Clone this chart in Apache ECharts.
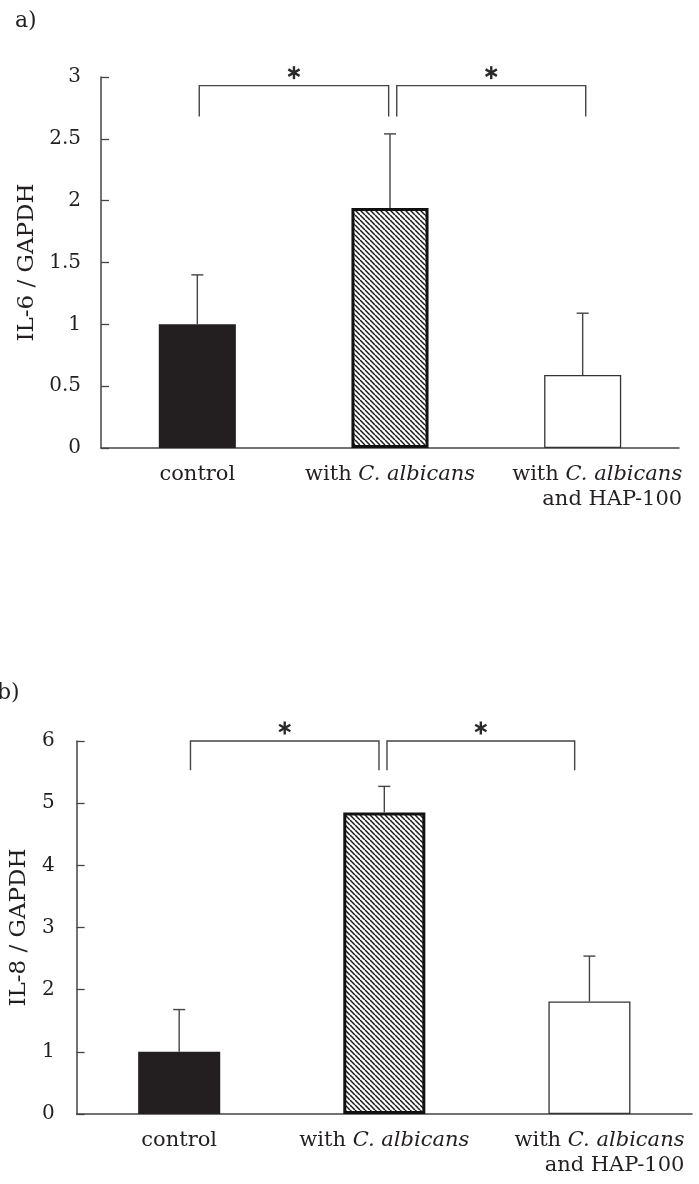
<!DOCTYPE html>
<html><head><meta charset="utf-8">
<script src="https://cdn.jsdelivr.net/npm/echarts@6/dist/echarts.min.js"></script>
<style>html,body{margin:0;padding:0;background:#fff}#c{width:699px;height:1184px}</style>
</head><body><div id="c"></div>
<script>
// ---------- data ----------
const categories = ['control', 'with C. albicans', 'with C. albicans\nand HAP-100'];
const il6Means = [1.0, 1.94, 0.59];
const il6Upper = [1.40, 2.54, 1.09];
const il8Means = [1.0, 4.85, 1.81];
const il8Upper = [1.68, 5.27, 2.54];
// significance brackets: [xStart, xEnd, levelY, dropY]; x in category units (category i centre = i + 0.5)
const il6Brackets = [[0.51, 1.493, 2.93, 2.68], [1.535, 2.516, 2.93, 2.68]];
const il8Brackets = [[0.555, 1.474, 6.0, 5.53], [1.513, 2.428, 6.0, 5.53]];
const panelLetters = ['a)', 'b)'];
const yNames = ['IL-6 / GAPDH', 'IL-8 / GAPDH'];

// ---------- styles ----------
const FONT = '"DejaVu Serif", "Liberation Serif", serif';
const INK = '#231f20';
const LINE = '#444';

function makeHatch() {
  const s = 5, cv = document.createElement('canvas');
  cv.width = s; cv.height = s;
  const g = cv.getContext('2d');
  g.fillStyle = '#fff'; g.fillRect(0, 0, s, s);
  g.strokeStyle = '#1a1a1a'; g.lineWidth = 1.5;
  for (const o of [-s, 0, s]) { g.beginPath(); g.moveTo(o, 0); g.lineTo(o + s, s); g.stroke(); }
  return cv;
}
const hatch = makeHatch();
const barStyles = [
  { color: INK },
  { color: { image: hatch, repeat: 'repeat' }, borderColor: '#111', borderWidth: 3 },
  { color: '#fff', borderColor: '#333', borderWidth: 1.3 }
];

function labelFmt(v) {
  return v.split('\n').map((line, i) =>
    i === 0 ? line.replace('C. albicans', '{i|C. albicans}') : '{r|' + line + '}'
  ).join('\n');
}
function catData(shift) {
  return categories.map((c, i) => i === 2 ? { value: c, textStyle: { padding: [0, 0, 0, shift] } } : c);
}

function errRender(params, api) {
  const x = api.value(0);
  const p0 = api.coord([x, api.value(1)]);
  const p1 = api.coord([x, api.value(2)]);
  const cap = 6;
  const st = { stroke: LINE, lineWidth: 1.4 };
  return { type: 'group', children: [
    { type: 'line', shape: { x1: p0[0], y1: p0[1], x2: p1[0], y2: p1[1] }, style: st },
    { type: 'line', shape: { x1: p1[0] - cap, y1: p1[1], x2: p1[0] + cap, y2: p1[1] }, style: st }
  ]};
}
function bracketRender(params, api) {
  const a = api.coord([api.value(0), api.value(3)]);
  const b = api.coord([api.value(0), api.value(2)]);
  const c = api.coord([api.value(1), api.value(2)]);
  const d = api.coord([api.value(1), api.value(3)]);
  const mx = (b[0] + c[0]) / 2, my = b[1] - 13, r = 6.5;
  const kids = [{ type: 'polyline', shape: { points: [a, b, c, d] }, style: { stroke: LINE, lineWidth: 1.4, fill: null } }];
  [90, 30, 150].forEach(deg => {
    const t = deg * Math.PI / 180, dx = r * Math.cos(t), dy = r * Math.sin(t);
    kids.push({ type: 'line', shape: { x1: mx - dx, y1: my - dy, x2: mx + dx, y2: my + dy }, style: { stroke: '#2a2a2a', lineWidth: 2.4 } });
  });
  return { type: 'group', children: kids };
}

function catAxis(gi, shift) {
  return {
    type: 'category', gridIndex: gi, data: catData(shift),
    axisLine: { lineStyle: { color: LINE, width: 1.5 } },
    axisTick: { show: false },
    axisLabel: {
      interval: 0, margin: 14, color: INK, fontFamily: FONT, fontSize: 21, lineHeight: 25,
      formatter: labelFmt,
      rich: {
        i: { fontStyle: 'italic', fontFamily: FONT, fontSize: 21, color: INK, lineHeight: 25 },
        r: { align: 'right', fontFamily: FONT, fontSize: 21, color: INK, lineHeight: 25 }
      }
    }
  };
}
function valAxisX(gi) { return { type: 'value', gridIndex: gi, min: 0, max: 3, show: false }; }
function yAxis(gi, max, interval, margin, nameGap) {
  return {
    type: 'value', gridIndex: gi, min: 0, max: max, interval: interval,
    name: yNames[gi], nameLocation: 'middle', nameRotate: 90, nameGap: nameGap,
    nameTextStyle: { fontFamily: FONT, fontSize: 23, color: INK },
    axisLine: { show: true, lineStyle: { color: LINE, width: 1.5 } },
    axisTick: { show: true, inside: true, length: 8, lineStyle: { color: LINE, width: 1.3 } },
    axisLabel: { margin: margin, color: INK, fontFamily: FONT, fontSize: 20 },
    splitLine: { show: false }
  };
}
function bars(means, xi, yi) {
  return { type: 'bar', xAxisIndex: xi, yAxisIndex: yi, barWidth: '40%', silent: true,
    data: means.map((v, i) => ({ value: v, itemStyle: barStyles[i] })) };
}
function errs(means, upper, xi, yi) {
  return { type: 'custom', xAxisIndex: xi, yAxisIndex: yi, z: 5, silent: true,
    renderItem: errRender, encode: { x: 0, y: [1, 2] },
    data: means.map((m, i) => [i, m, upper[i]]) };
}
function brackets(data, xi, yi) {
  return { type: 'custom', xAxisIndex: xi, yAxisIndex: yi, z: 5, silent: true, clip: false,
    renderItem: bracketRender, encode: { x: [0, 1], y: [2, 3] }, data: data };
}

const chart = echarts.init(document.getElementById('c'), null, { renderer: 'canvas' });
chart.setOption({
  backgroundColor: '#fff',
  animation: false,
  grid: [
    { left: 101, top: 77, width: 578, height: 371 },
    { left: 76, top: 741, width: 616, height: 373 }
  ],
  xAxis: [catAxis(0, 29), valAxisX(0), catAxis(1, 20), valAxisX(1)],
  yAxis: [yAxis(0, 3, 0.5, 20, 59), yAxis(1, 6, 1, 22, 45)],
  series: [
    bars(il6Means, 0, 0), errs(il6Means, il6Upper, 0, 0), brackets(il6Brackets, 1, 0),
    bars(il8Means, 2, 1), errs(il8Means, il8Upper, 2, 1), brackets(il8Brackets, 3, 1)
  ],
  graphic: [
    { type: 'text', left: 15, top: 10, style: { text: panelLetters[0], font: '22px ' + FONT, fill: INK } },
    { type: 'text', left: -3, top: 682, style: { text: panelLetters[1], font: '22px ' + FONT, fill: INK } }
  ]
});
</script>
</body></html>
